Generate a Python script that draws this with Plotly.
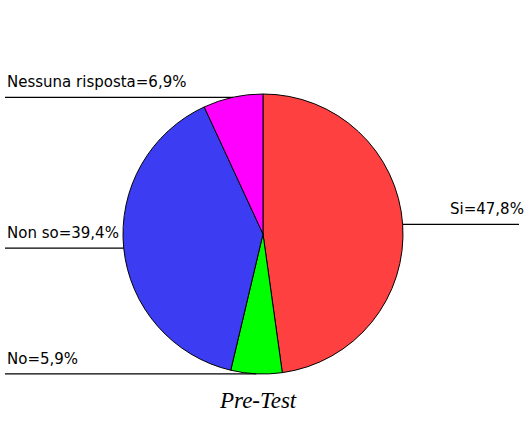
import math
import plotly.graph_objects as go

# ---- data ----
categories = ["Si", "No", "Non so", "Nessuna risposta"]
values = [47.8, 5.9, 39.4, 6.9]
colors = ["#FF4040", "#00FF00", "#3C3CF2", "#FF00FF"]
title_text = "Pre-Test"

W, H = 527, 424
cx, cy, r = 263, 234, 140  # pie geometry in pixels (top-left origin)

fig = go.Figure()
fig.add_trace(go.Pie(
    labels=categories,
    values=values,
    marker=dict(colors=colors, line=dict(color="black", width=1)),
    sort=False,
    direction="clockwise",
    rotation=0,
    textinfo="none",
    hoverinfo="label+percent",
    showlegend=False,
    domain=dict(x=[(cx - r) / W, (cx + r) / W],
                y=[(H - cy - r) / H, (H - cy + r) / H]),
))

shapes = []
annotations = []
total = sum(values)
cum = 0.0
for cat, v in zip(categories, values):
    mid = (cum + v / 2) / total * 2 * math.pi
    cum += v
    ex = cx + r * math.sin(mid)
    ey = cy - r * math.cos(mid)
    label = f"{cat}={v:.1f}%".replace(".", ",")
    if math.sin(mid) >= 0:
        x0, x1 = ex, 519
        annotations.append(dict(x=526, y=ey - 4, text=label, xanchor="right",
                                yanchor="bottom", showarrow=False,
                                xref="x", yref="y"))
    else:
        x0, x1 = 5, ex
        annotations.append(dict(x=5, y=ey - 4, text=label, xanchor="left",
                                yanchor="bottom", showarrow=False,
                                xref="x", yref="y"))
    shapes.append(dict(type="line", xref="x", yref="y", x0=x0, x1=x1,
                       y0=ey, y1=ey, line=dict(color="black", width=1.3)))

annotations.append(dict(x=258, y=400, text=title_text, xanchor="center",
                        yanchor="middle", showarrow=False, xref="x", yref="y",
                        font=dict(family="Liberation Serif", size=23,
                                  style="italic", color="black")))

fig.update_layout(
    width=W, height=H,
    margin=dict(l=0, r=0, t=0, b=0),
    paper_bgcolor="white", plot_bgcolor="rgba(0,0,0,0)",
    xaxis=dict(range=[0, W], visible=False, fixedrange=True),
    yaxis=dict(range=[H, 0], visible=False, fixedrange=True),
    font=dict(family="DejaVu Sans", size=15, color="black"),
    shapes=shapes,
    annotations=annotations,
)
fig.write_html("out.html", config={"displayModeBar": False},
               post_script="document.body.style.margin='0';document.body.style.padding='0';")
